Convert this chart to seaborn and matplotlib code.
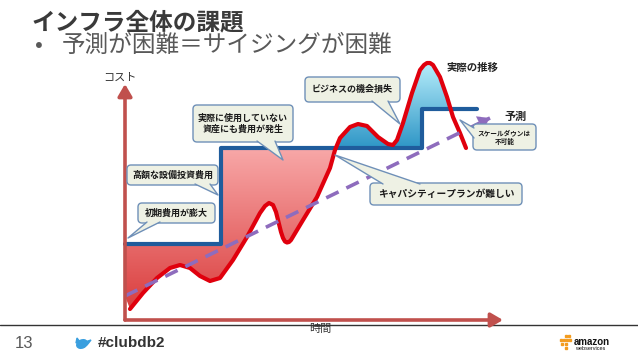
import numpy as np
import matplotlib
matplotlib.use("Agg")
import matplotlib.pyplot as plt
import seaborn as sns
from matplotlib.patches import FancyBboxPatch, Polygon, Ellipse, Rectangle
from matplotlib.colors import LinearSegmentedColormap
from matplotlib.path import Path

# time / cost, origin at the corner of the two axis arrows
actual_t = [5, 18, 32, 45, 55, 65, 75, 85, 95, 108, 122, 135, 140, 144, 148, 151,
            154, 156, 158, 160, 162, 164, 166, 169, 178, 192, 205, 210, 215, 225,
            233, 242, 253, 263, 268, 272, 278, 287, 295, 299, 302, 305, 308, 315,
            322, 328, 335, 341]
actual_c = [11, 27, 42, 52, 55, 52, 44, 39, 42, 60, 83, 107, 114, 117, 115, 108,
            96, 88, 82, 78.5, 77.5, 78, 80, 85, 100, 123, 152, 170, 182, 193,
            196, 194, 183, 176, 175, 180, 197, 227, 250, 255, 257, 257, 255, 243,
            223, 203, 187, 172]
plan_t = [0, 96, 297, 352]
plan_c = [76, 172, 211, 211]
trend_t = [0, 365]
trend_c = [24, 202]

notes = ["ビジネスの機会損失",
         "実際に使用していない\n資産にも費用が発生",
         "高額な設備投資費用",
         "初期費用が膨大",
         "キャパシティープランが難しい",
         "スケールダウンは\n不可能"]

sns.set_theme(style="white")
plt.rcParams['font.family'] = ['Noto Sans CJK JP', 'DejaVu Sans']

fig = plt.figure(figsize=(6.38, 3.59), dpi=100)
ax = fig.add_axes([0, 0, 1, 1])


def P(px, py):
    # slide pixel -> data
    return px - 125, 320 - py


def plan_at(t):
    i = np.searchsorted(plan_t, t, side='right') - 1
    return np.array(plan_c, dtype=float)[np.clip(i, 0, len(plan_c) - 1)]


# fills between plan and actual; the red one closes on the trend start at the axis
edges = np.array(plan_t, dtype=float)
tt = np.union1d(actual_t, np.concatenate([edges, edges - 0.01]))
tt = tt[(tt >= actual_t[0]) & (tt <= actual_t[-1])]
cc = np.interp(tt, actual_t, actual_c)
tt = np.concatenate([[trend_t[0]], tt])
cc = np.concatenate([[trend_c[0]], cc])
pp = plan_at(tt)


def grad_fill(mask, c_bot, c_top, y0, y1):
    pc = ax.fill_between(tt, cc, pp, where=mask, interpolate=True,
                         facecolor='none', edgecolor='none')
    path = Path.make_compound_path(*pc.get_paths())
    cmap = LinearSegmentedColormap.from_list('g', [c_bot, c_top])
    g = np.linspace(0, 1, 256).reshape(-1, 1)
    im = ax.imshow(g, cmap=cmap, extent=[-125, 513, y0, y1], origin='lower',
                   aspect='auto', zorder=2)
    im.set_clip_path(path, transform=ax.transData)


grad_fill((cc <= pp) & (tt < 215), '#d93a3a', '#f8a8a8', 5, 172)
grad_fill((cc >= pp) & (tt > 200), '#2e96c6', '#b8eefb', 172, 258)

# plan (step), actual, trend
sns.lineplot(x=plan_t, y=plan_c, drawstyle='steps-post', color='#1f5c9c',
             lw=3, ax=ax, zorder=3)
sns.lineplot(x=actual_t, y=actual_c, sort=False, color='#e0000d', lw=3,
             ax=ax, zorder=4)
sns.lineplot(x=trend_t, y=trend_c, color='#8e6cbd', lw=2.6,
             linestyle=(0, (3.8, 2.4)), ax=ax, zorder=4)
d = np.array([trend_t[1] - trend_t[0], trend_c[1] - trend_c[0]], dtype=float)
d /= np.hypot(*d)
ax.annotate('', xy=(trend_t[1], trend_c[1]),
            xytext=(trend_t[1] - 12 * d[0], trend_c[1] - 12 * d[1]),
            arrowprops=dict(arrowstyle='-|>,head_length=0.7,head_width=0.45',
                            color='#8e6cbd', lw=0.1, shrinkA=0, shrinkB=0),
            zorder=4)

# axis arrows
for tip in [P(125, 84), P(503, 320)]:
    ax.annotate('', xy=tip, xytext=(0, 0),
                arrowprops=dict(arrowstyle='-|>,head_length=0.6,head_width=0.35',
                                color='#c0504d', lw=2.6, shrinkA=0, shrinkB=0),
                zorder=5)

ax.text(*P(120, 78), 'コスト', ha='center', va='center', fontsize=8, color='#333333')
ax.text(*P(320, 329), '時間', ha='center', va='center', fontsize=8, color='#333333')
ax.text(*P(473, 68), '実際の推移', ha='center', va='center', fontsize=7.5,
        fontweight='bold', color='#222222')
ax.text(*P(516, 116), '予測', ha='center', va='center', fontsize=8,
        fontweight='bold', color='#222222')


def callout(box, base, tip, text, size=6.5):
    x0, y0 = P(box[0], box[3])
    x1, y1 = P(box[2], box[1])
    face, edge = '#eef1e4', '#6f90b8'
    ax.add_patch(FancyBboxPatch((x0, y0), x1 - x0, y1 - y0,
                                boxstyle='round,pad=0,rounding_size=4',
                                facecolor=face, edgecolor=edge, lw=1, zorder=6))
    b1, b2, tp = P(*base[0]), P(*base[1]), P(*tip)
    ax.add_patch(Polygon([b1, tp, b2], closed=True, facecolor=face,
                         edgecolor='none', zorder=7))
    ax.plot([b1[0], tp[0], b2[0]], [b1[1], tp[1], b2[1]], color=edge, lw=1,
            zorder=7)
    ax.text((x0 + x1) / 2, (y0 + y1) / 2, text, ha='center', va='center',
            fontsize=size, fontweight='bold', color='#1a1a1a', linespacing=1.3,
            zorder=8)


callout((305, 77, 400, 102), ((372, 101), (388, 101)), (400, 124), notes[0])
callout((193, 105, 293, 142), ((257, 141), (275, 141)), (283, 160), notes[1])
callout((127, 165, 218, 185), ((195, 184), (210, 184)), (218, 195), notes[2])
callout((138, 203, 215, 223), ((147, 222), (160, 222)), (128, 238), notes[3])
callout((370, 183, 522, 205), ((383, 184), (420, 184)), (335, 155), notes[4], 7)
callout((473, 124, 536, 150), ((474, 128), (474, 138)), (460, 120), notes[5], 4.8)

ax.set_xlim(-125, 513)
ax.set_ylim(-39, 320)
ax.axis('off')

# slide decoration
fig.text(32 / 638, 1 - 22 / 359, 'インフラ全体の課題', ha='left', va='center',
         fontsize=17, fontweight='bold', color='#3a3a3a')
fig.text(35 / 638, 1 - 45 / 359, '•', ha='left', va='center', fontsize=17,
         color='#595959')
fig.text(62 / 638, 1 - 45 / 359, '予測が困難＝サイジングが困難', ha='left',
         va='center', fontsize=17, color='#595959')

ax.plot([P(0, 325)[0], P(638, 325)[0]], [P(0, 325)[1]] * 2,
        color='#333333', lw=1, zorder=1, clip_on=False)
fig.text(24 / 638, 1 - 343 / 359, '13', ha='center', va='center', fontsize=12,
         family=['Liberation Sans', 'DejaVu Sans'], color='#595959')
fig.text(98 / 638, 1 - 343 / 359, '#clubdb2', ha='left', va='center',
         fontsize=11, fontweight='bold', family=['Liberation Sans', 'DejaVu Sans'],
         color='#333333')
bx, by = P(82, 344)
ax.add_patch(Ellipse((bx, by), 11, 8, angle=25, color='#3a9fdf', zorder=5))
ax.add_patch(Polygon([(bx - 6, by + 1), (bx - 2, by + 2), (bx - 5, by + 6)],
                     color='#3a9fdf', zorder=5))
ax.add_patch(Polygon([(bx + 3, by + 2), (bx + 9, by + 4), (bx + 5, by - 1)],
                     color='#3a9fdf', zorder=5))

for cx, cy in [(566, 336), (569, 336), (561, 340), (564, 340), (567, 340),
               (570, 340), (562, 344), (566, 344), (566, 348)]:
    x, y = P(cx, cy)
    ax.add_patch(Rectangle((x - 1.3, y - 1.3), 2.6, 2.6, color='#f39c1f',
                           zorder=5, clip_on=False))
fig.text(574 / 638, 1 - 342 / 359, 'amazon', ha='left', va='center', fontsize=7,
         fontweight='bold', family=['Liberation Sans', 'DejaVu Sans'], color='#111111')
fig.text(575 / 638, 1 - 349 / 359, 'webservices', ha='left', va='center',
         fontsize=4, family=['Liberation Sans', 'DejaVu Sans'], color='#111111')

fig.savefig('out.png', dpi=100)
